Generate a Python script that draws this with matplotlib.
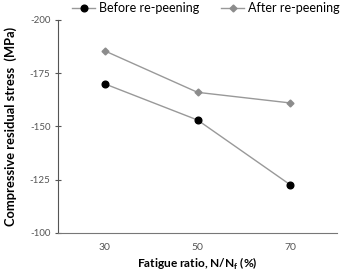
import matplotlib
matplotlib.use("Agg")
import matplotlib.pyplot as plt
from matplotlib.ticker import FuncFormatter

# Data
ratio = [30, 50, 70]
before = [-170, -153, -122.5]
after = [-185.5, -166, -161]
yticks = [-200, -175, -150, -125, -100]

plt.rcParams["font.family"] = ["Lato", "DejaVu Sans"]
plt.rcParams["mathtext.fontset"] = "custom"
plt.rcParams["mathtext.rm"] = "Lato:bold"
plt.rcParams["mathtext.bf"] = "Lato:bold"

fig = plt.figure(figsize=(3.4, 2.73), dpi=100)
ax = fig.add_axes([0.171, 0.147, 0.82, 0.78])

ax.plot(ratio, before, color="#999999", lw=1.0, marker="o", ms=4.8,
        mfc="black", mec="black", label="Before re-peening")
ax.plot(ratio, after, color="#999999", lw=1.0, marker="D", ms=3.5,
        mfc="#8c8c8c", mec="#8c8c8c", label="After re-peening")

ax.set_xlim(20, 80)
ax.set_ylim(-100, -200)
ax.set_xticks(ratio)
ax.set_yticks(yticks)
ax.yaxis.set_major_formatter(FuncFormatter(lambda v, p: f"-{abs(int(v))}"))
ax.tick_params(axis="y", direction="inout", length=5, width=0.8,
               labelsize=7, labelcolor="#555555", color="#555555", pad=3)
ax.tick_params(axis="x", length=0, labelsize=7.5, labelcolor="#555555", pad=7)

for s in ["top", "right"]:
    ax.spines[s].set_visible(False)
ax.spines["left"].set_color("#555555")
ax.spines["bottom"].set_color("#777777")

ax.set_xlabel("Fatigue ratio, N/N$_\\mathrm{f}$ (%)", fontsize=8.6,
              fontweight="bold", labelpad=3)
ax.set_ylabel("Compressive residual stress  (MPa)", fontsize=9.3,
              fontweight="bold", labelpad=9)

ax.legend(loc="lower center", bbox_to_anchor=(0.53, 0.975), ncol=2, frameon=False,
          fontsize=9, handlelength=1.8, columnspacing=1.8, handletextpad=0.3)

fig.savefig("out.png", dpi=100)
